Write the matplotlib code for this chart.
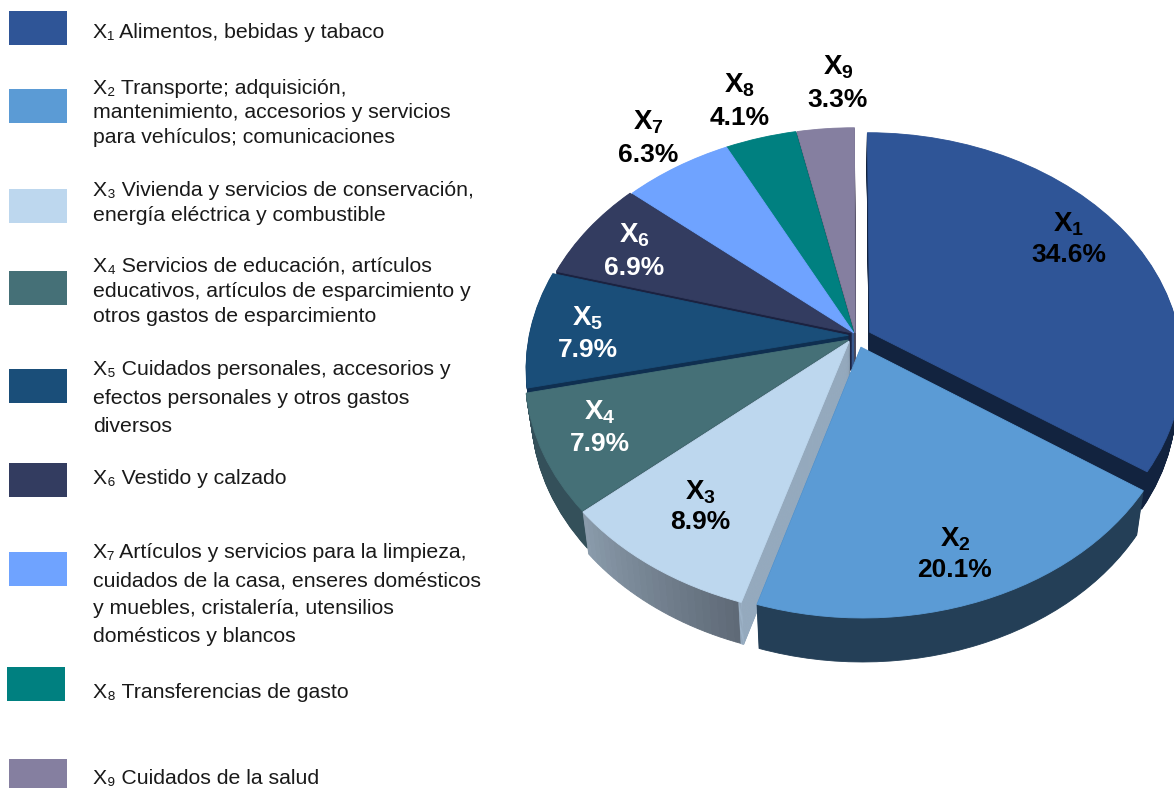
import matplotlib
matplotlib.use("Agg")
import matplotlib.pyplot as plt
import numpy as np
from matplotlib.patches import Rectangle, Wedge
from matplotlib.transforms import Transform, Affine2D
from matplotlib.colors import to_rgb

plt.rcParams['font.family'] = ['Liberation Sans', 'DejaVu Sans']
plt.rcParams['mathtext.fontset'] = 'custom'
plt.rcParams['mathtext.bf'] = 'Liberation Sans:bold'
plt.rcParams['mathtext.rm'] = 'Liberation Sans'

# Data
names = ["1", "2", "3", "4", "5", "6", "7", "8", "9"]
values = [34.6, 20.1, 8.9, 7.9, 7.9, 6.9, 6.3, 4.1, 3.3]
legend_lines = [
    ["X₁ Alimentos, bebidas y tabaco"],
    ["X₂ Transporte; adquisición,", "mantenimiento, accesorios y servicios", "para vehículos; comunicaciones"],
    ["X₃ Vivienda y servicios de conservación,", "energía eléctrica y combustible"],
    ["X₄ Servicios de educación, artículos", "educativos, artículos de esparcimiento y", "otros gastos de esparcimiento"],
    ["X₅ Cuidados personales, accesorios y", "efectos personales y otros gastos", "diversos"],
    ["X₆ Vestido y calzado"],
    ["X₇ Artículos y servicios para la limpieza,", "cuidados de la casa, enseres domésticos", "y muebles, cristalería, utensilios", "domésticos y blancos"],
    ["X₈ Transferencias de gasto"],
    ["X₉ Cuidados de la salud"],
]

# Styles and layout
top_colors = ['#2f5597', '#5b9bd5', '#bdd7ee', '#457077', '#1a4e79', '#333c60', '#6fa3ff', '#008080', '#857fa0']
wall_colors = ['#12233f', '#243f57', '#6f7f8f', '#34505a', '#0f2f50', '#1b2240', '#3a5a90', '#024040', '#4e4a60']
explode = [0.07, 0, 0.005, 0, 0, 0, 0, 0, 0]
nudge = [(0, 0), (0.034, -0.03), (0, 0), (-0.005, 0), (-0.005, 0.02), (0.005, 0.03), (0.012, 0.03), (0.012, 0.03), (0.016, 0.03)]
radius = [0.97, 0.98, 1, 1, 1, 1, 1, 1, 1]
depth_scale = [0.85, 1, 0.95, 0.85, 0.85, 0.85, 0.85, 0.85, 0.85]
paint_order = [8, 7, 6, 5, 0, 4, 3, 2, 1]
label_xy = [(1069, 222), (955, 537), (700, 490), (600, 410), (588, 316), (634, 233), (648, 120), (740, 83), (838, 65)]
pct_y = [255, 570, 522, 444, 350, 268, 155, 118, 100]
label_colors = ['black', 'black', 'black', 'white', 'white', 'white', 'black', 'black', 'black']
swatch_xy = [(9, 11), (9, 89), (9, 189), (9, 271), (9, 369), (9, 463), (9, 552), (7, 667), (9, 759)]
line_y = [[32], [88, 112, 137], [190, 215], [266, 291, 316], [369, 398, 426], [478], [553, 581, 609, 637], [693], [778]]
depth = 44


# Perspective of the pie plane, unit circle to pixels
class PieView(Transform):
    input_dims = 2
    output_dims = 2
    is_separable = False
    has_inverse = False

    def transform_non_affine(self, xy):
        xy = np.asarray(xy, dtype=float)
        d = 1 + 0.141 * xy[:, 1]
        return np.column_stack([850 + 320 * xy[:, 0] / d, 340 - 236 * xy[:, 1] / d])


fig = plt.figure(figsize=(11.74, 7.88), dpi=100)
ax = fig.add_axes([0, 0, 1, 1])
view = PieView()


def place(patch, dz, z):
    # lower layers sit further away, so they come out a bit narrower
    shrink = 1 - 0.022 * dz / depth
    patch.set_transform(view + Affine2D().translate(-850, 0).scale(shrink, 1).translate(850, dz) + ax.transData)
    patch.set_zorder(z)
    patch.set_clip_on(False)


for dz in range(depth, -1, -1):
    wedges, _ = ax.pie(values, explode=explode, startangle=90, counterclock=False,
                       radius=1, wedgeprops={'linewidth': 0.6})
    for i, w in enumerate(wedges):
        z = 1 + paint_order.index(i) * 100 + (depth - dz)
        color = top_colors[i] if dz == 0 else wall_colors[i]
        w.set_facecolor(color)
        w.set_edgecolor(color)
        w.set_center((w.center[0] + nudge[i][0], w.center[1] + nudge[i][1]))
        w.set_radius(radius[i])
        place(w, dz * depth_scale[i], z)
        # X3 wall has a grey gradient and a lighter cut side
        if i == 2 and dz > 0:
            w.set_visible(False)
            steps = np.linspace(w.theta1, w.theta2, 25)
            left = np.array(to_rgb('#8a9bab'))
            right = np.array(to_rgb('#5f6a77'))
            for k in range(24):
                c = left + (right - left) * k / 23
                piece = Wedge(w.center, 1, steps[k], steps[k + 1], facecolor=c, edgecolor=c, linewidth=0.6)
                ax.add_patch(piece)
                place(piece, dz * depth_scale[i], z)
            cut = Wedge(w.center, 1, w.theta2 - 0.4, w.theta2, facecolor='#9db3c8', edgecolor='#9db3c8', linewidth=1)
            ax.add_patch(cut)
            place(cut, dz * depth_scale[i], z + 0.5)

ax.set_aspect('auto')
ax.set_xlim(0, 1174)
ax.set_ylim(788, 0)
ax.axis('off')

# Legend
for i in range(len(names)):
    ax.add_patch(Rectangle(swatch_xy[i], 58, 34, facecolor=top_colors[i], edgecolor='none', zorder=2000))
    for line, y in zip(legend_lines[i], line_y[i]):
        ax.text(93, y, line, fontsize=15.3, color='#1a1a1a', va='center', ha='left', zorder=2000)

# Slice labels
for i in range(len(names)):
    x, y = label_xy[i]
    ax.text(x, y + 2, rf"$\mathbf{{X}}_{{\mathbf{{{names[i]}}}}}$", fontsize=20, color=label_colors[i],
            ha='center', va='center', zorder=2000)
    ax.text(x, pct_y[i], f"{values[i]}%", fontsize=19, fontweight='bold', color=label_colors[i],
            ha='center', va='center', zorder=2000)

fig.savefig('out.png', dpi=100)
